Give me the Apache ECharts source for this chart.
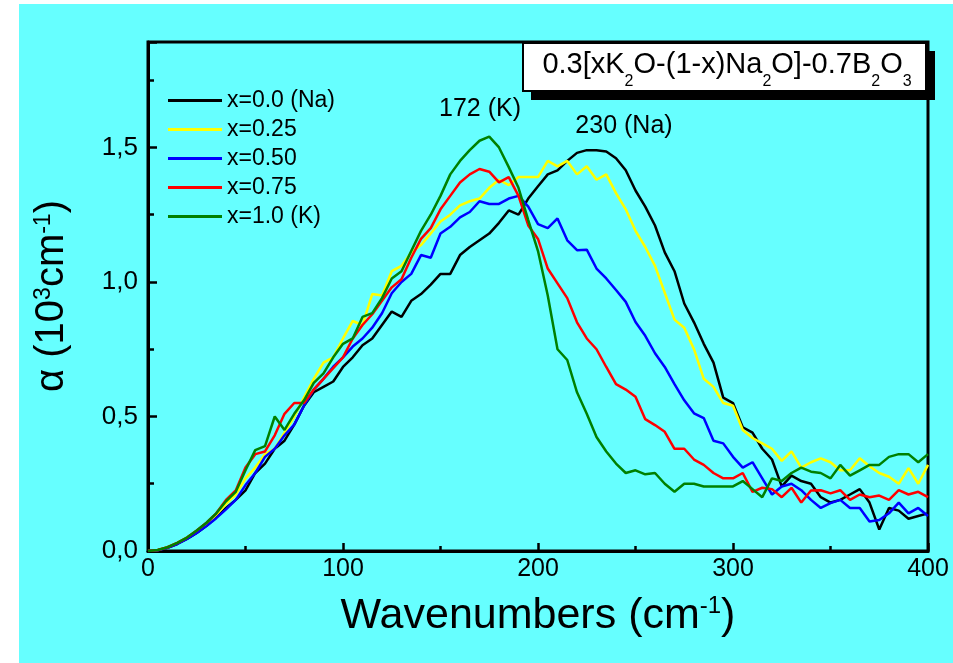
<!DOCTYPE html>
<html>
<head>
<meta charset="utf-8">
<script src="https://cdn.jsdelivr.net/npm/echarts@6/dist/echarts.min.js"></script>
<style>
  html, body { margin:0; padding:0; background:#ffffff; }
  #bg { position:absolute; left:19px; top:4px; width:934px; height:659px; background:#66FFFF; }
  #chart { position:absolute; left:0; top:0; width:953px; height:663px; }
</style>
</head>
<body>
<div id="bg"></div>
<div id="chart"></div>
<script>
const wavenumbers = [0,5,10,15,20,25,30,35,40,45,50,55,60,65,70,75,80,85,90,95,100,105,110,115,120,125,130,135,140,145,150,155,160,165,170,175,180,185,190,195,200,205,210,215,220,225,230,235,240,245,250,255,260,265,270,275,280,285,290,295,300,305,310,315,320,325,330,335,340,345,350,355,360,365,370,375,380,385,390,395,400];

const seriesNames = ['x=0.0 (Na)', 'x=0.25', 'x=0.50', 'x=0.75', 'x=1.0 (K)'];
const seriesColors = ['#000000', '#FFFF00', '#0000FF', '#FF0000', '#008000'];

const alphaNa = [0,0.003,0.012,0.026,0.045,0.067,0.094,0.125,0.16,0.19,
0.225,0.29,0.325,0.38,0.41,0.47,0.54,0.59,0.61,0.63,
0.684,0.72,0.765,0.79,0.84,0.89,0.87,0.93,0.955,0.99,
1.03,1.03,1.10,1.13,1.155,1.18,1.22,1.266,1.25,1.31,
1.356,1.40,1.415,1.45,1.48,1.49,1.49,1.485,1.46,1.415,
1.34,1.28,1.21,1.11,1.04,0.92,0.85,0.77,0.70,0.57,
0.55,0.46,0.44,0.38,0.34,0.24,0.28,0.26,0.25,0.20,
0.18,0.19,0.21,0.23,0.18,0.08,0.16,0.15,0.12,0.13,
0.14];

const alpha025 = [0,0.004,0.014,0.03,0.05,0.075,0.10,0.135,0.175,0.21,
0.27,0.31,0.36,0.38,0.44,0.50,0.57,0.64,0.70,0.72,
0.79,0.855,0.84,0.955,0.95,1.04,1.06,1.11,1.137,1.18,
1.225,1.25,1.285,1.30,1.31,1.35,1.38,1.36,1.39,1.39,
1.39,1.45,1.43,1.45,1.40,1.43,1.38,1.40,1.33,1.27,
1.19,1.13,1.06,0.96,0.86,0.83,0.75,0.64,0.61,0.55,
0.54,0.45,0.42,0.40,0.38,0.335,0.37,0.31,0.33,0.344,
0.33,0.30,0.30,0.345,0.315,0.29,0.276,0.25,0.308,0.25,
0.32];

const alpha050 = [0,0.003,0.012,0.026,0.045,0.067,0.093,0.122,0.155,0.19,
0.245,0.29,0.35,0.38,0.43,0.47,0.54,0.60,0.64,0.685,
0.72,0.76,0.79,0.83,0.884,0.958,1.0,1.03,1.10,1.09,
1.18,1.205,1.24,1.26,1.30,1.29,1.29,1.31,1.32,1.28,
1.215,1.20,1.236,1.155,1.118,1.12,1.05,1.013,0.97,0.926,
0.851,0.80,0.735,0.684,0.62,0.56,0.512,0.494,0.41,0.40,
0.35,0.31,0.33,0.27,0.21,0.24,0.25,0.226,0.19,0.16,
0.178,0.19,0.16,0.16,0.11,0.115,0.14,0.18,0.14,0.16,
0.13];

const alpha075 = [0,0.004,0.014,0.03,0.05,0.076,0.105,0.14,0.19,0.225,
0.31,0.36,0.37,0.43,0.51,0.55,0.55,0.60,0.64,0.68,
0.72,0.79,0.84,0.88,0.93,0.98,1.01,1.09,1.16,1.2,
1.27,1.32,1.37,1.40,1.42,1.41,1.37,1.39,1.32,1.21,
1.16,1.05,0.995,0.94,0.85,0.79,0.75,0.684,0.62,0.60,
0.573,0.49,0.468,0.443,0.38,0.38,0.34,0.32,0.29,0.27,
0.27,0.29,0.22,0.235,0.23,0.2,0.235,0.18,0.225,0.226,
0.214,0.226,0.19,0.21,0.2,0.206,0.19,0.226,0.21,0.22,
0.20];

const alphaK = [0,0.004,0.014,0.03,0.05,0.076,0.105,0.14,0.185,0.22,
0.30,0.375,0.39,0.50,0.45,0.51,0.56,0.625,0.66,0.72,
0.77,0.79,0.87,0.884,0.94,1.013,1.04,1.115,1.19,1.25,
1.32,1.40,1.45,1.49,1.525,1.54,1.50,1.427,1.35,1.23,
1.115,0.95,0.75,0.71,0.59,0.51,0.424,0.37,0.325,0.29,
0.30,0.285,0.29,0.25,0.22,0.25,0.25,0.24,0.24,0.24,
0.24,0.26,0.23,0.20,0.27,0.26,0.29,0.31,0.295,0.29,
0.27,0.32,0.28,0.30,0.32,0.32,0.35,0.36,0.36,0.33,
0.36];

const allSeries = [alphaNa, alpha025, alpha050, alpha075, alphaK];

const xTicks = { min: 0, max: 400, interval: 100 };
const yTicks = { min: 0, max: 1.892, interval: 0.5, minorInterval: 0.25, lastLabel: 1.5 };

const FONT = "'Liberation Sans', Arial, sans-serif";

const chart = echarts.init(document.getElementById('chart'), null, { renderer: 'canvas' });

const option = {
  backgroundColor: 'transparent',
  animation: false,
  grid: { left: 148, right: 25, top: 42, bottom: 112, show: true, borderColor: '#000', borderWidth: 3, backgroundColor: 'transparent' },
  legend: {
    orient: 'vertical', left: 168, top: 89, padding: 0, icon: 'rect', itemWidth: 54, itemHeight: 3, itemGap: 6,
    data: seriesNames,
    textStyle: { fontFamily: FONT, fontSize: 23, color: '#000', lineHeight: 22 }
  },
  xAxis: {
    type: 'value', min: xTicks.min, max: xTicks.max, interval: xTicks.interval,
    axisLine: { lineStyle: { color: '#000', width: 3 } },
    axisTick: { inside: true, length: 8, lineStyle: { color: '#000', width: 2.5 } },
    minorTick: { show: true, splitNumber: 2, length: 5, lineStyle: { color: '#000', width: 2.5 } },
    splitLine: { show: false },
    axisLabel: { fontFamily: FONT, fontSize: 25, color: '#000', margin: 6 }
  },
  yAxis: [{
    type: 'value', min: yTicks.min, max: yTicks.max, interval: yTicks.interval,
    axisLine: { lineStyle: { color: '#000', width: 3 } },
    axisTick: { inside: true, length: 9, lineStyle: { color: '#000', width: 2.5 } },
    splitLine: { show: false },
    axisLabel: {
      fontFamily: FONT, fontSize: 26, color: '#000', margin: 10,
      formatter: function (v) {
        const k = v / yTicks.interval;
        if (Math.abs(k - Math.round(k)) > 1e-6 || v > yTicks.lastLabel + 1e-6) return '';
        return v.toFixed(1).replace('.', ',');
      }
    }
  }, {
    type: 'value', min: yTicks.min, max: yTicks.max, interval: yTicks.minorInterval, position: 'left',
    axisLine: { show: false },
    axisTick: { inside: true, length: 6, lineStyle: { color: '#000', width: 2.5 } },
    splitLine: { show: false },
    axisLabel: { show: false }
  }],
  series: seriesNames.map((name, i) => ({
    name: name, type: 'line', showSymbol: false, symbol: 'none',
    data: wavenumbers.map((x, j) => [x, allSeries[i][j]]),
    lineStyle: { color: seriesColors[i], width: 2.5 },
    itemStyle: { color: seriesColors[i] },
    z: 2 + i
  })),
  graphic: [
    { type: 'rect', z: 100, shape: { x: 531, y: 51, width: 404, height: 49 }, style: { fill: '#000' } },
    { type: 'rect', z: 101, shape: { x: 523, y: 43, width: 403, height: 48 }, style: { fill: '#fff', stroke: '#000', lineWidth: 2 } },
    { type: 'text', z: 102, x: 727, y: 70, style: {
        text: '{m|0.3[xK}{s|2}{m|O-(1-x)Na}{s|2}{m|O]-0.7B}{s|2}{m|O}{s|3}',
        align: 'center', verticalAlign: 'middle', fill: '#000',
        rich: {
          m: { fontFamily: FONT, fontSize: 29, lineHeight: 34, verticalAlign: 'top', fill: '#000' },
          s: { fontFamily: FONT, fontSize: 16, padding: [23, 0, 0, 0], verticalAlign: 'top', fill: '#000' }
        }
    } },
    { type: 'text', z: 102, x: 480, y: 109, style: { text: '172 (K)', font: '25px ' + FONT, fill: '#000', align: 'center', verticalAlign: 'middle' } },
    { type: 'text', z: 102, x: 624, y: 126, style: { text: '230 (Na)', font: '25px ' + FONT, fill: '#000', align: 'center', verticalAlign: 'middle' } },
    { type: 'text', z: 102, x: 538, y: 616, style: {
        text: '{m|Wavenumbers (cm}{p|-1}{m|)}', align: 'center', verticalAlign: 'middle', fill: '#000',
        rich: { m: { fontFamily: FONT, fontSize: 43, verticalAlign: 'top', fill: '#000' }, p: { fontFamily: FONT, fontSize: 24, verticalAlign: 'top', fill: '#000' } }
    } },
    { type: 'text', z: 102, x: 52, y: 296, rotation: Math.PI / 2, style: {
        text: '{m|α (10}{p|3}{m|cm}{p|-1}{m|)}', align: 'center', verticalAlign: 'middle', fill: '#000',
        rich: { m: { fontFamily: FONT, fontSize: 40, verticalAlign: 'top', fill: '#000' }, p: { fontFamily: FONT, fontSize: 23, verticalAlign: 'top', fill: '#000' } }
    } }
  ]
};
chart.setOption(option);
</script>
</body>
</html>
